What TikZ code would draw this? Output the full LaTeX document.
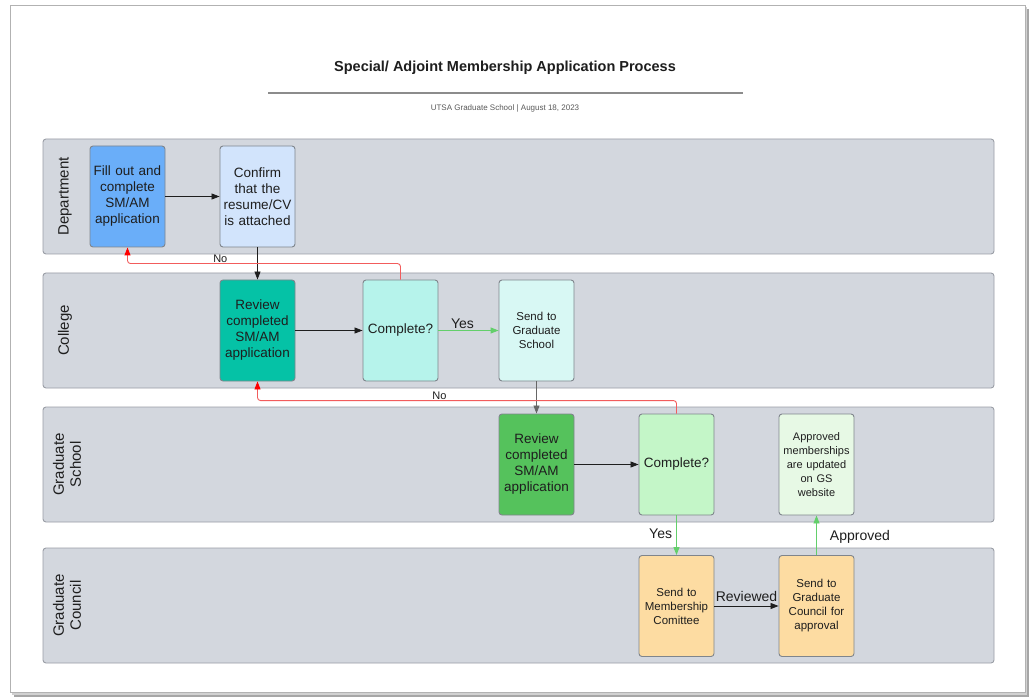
\documentclass[tikz,border=0pt]{standalone}
\usepackage{fontspec}
\setmainfont{Liberation Sans}
\usetikzlibrary{arrows.meta,calc}
\definecolor{lanefill}{HTML}{D3D7DE}
\definecolor{laneborder}{HTML}{9A9EA6}
\definecolor{boxborder}{HTML}{7F858C}
\definecolor{cBlue}{HTML}{6AAEF9}
\definecolor{cLBlue}{HTML}{D2E4FC}
\definecolor{cTeal}{HTML}{05C2A6}
\definecolor{cLTeal}{HTML}{B6F3EB}
\definecolor{cVLTeal}{HTML}{D8F8F4}
\definecolor{cGreen}{HTML}{55C25C}
\definecolor{cLGreen}{HTML}{C4F6C8}
\definecolor{cVLGreen}{HTML}{E7F9E5}
\definecolor{cOrange}{HTML}{FDDCA2}
\definecolor{redline}{HTML}{F25C5C}
\definecolor{greenline}{HTML}{63CF6B}
\definecolor{textc}{HTML}{1E1E1E}
\tikzset{
  lane/.style={draw=laneborder, line width=0.9pt, fill=lanefill, rounded corners=3pt, minimum width=951pt, minimum height=115pt, inner sep=0pt},
  lanelabel/.style={rotate=90, font=\fontsize{15}{17}\selectfont, text=textc, align=center},
  procbox/.style={draw=boxborder, line width=0.9pt, rounded corners=3pt, minimum width=75pt, minimum height=101pt, text width=74pt, align=center, inner sep=0pt, text=textc, font=\fontsize{13.5}{16}\selectfont},
  smallbox/.style={procbox, font=\fontsize{11.5}{14}\selectfont},
  tinybox/.style={procbox, font=\fontsize{11}{14}\selectfont},
  flow/.style={draw=textc, line width=0.8pt, -{Triangle[length=8pt,width=6pt]}},
  noflow/.style={draw=redline, line width=0.9pt, rounded corners=3pt, -{Triangle[length=8pt,width=6pt,color=red]}},
  yesflow/.style={draw=greenline, line width=0.9pt, -{Triangle[length=8pt,width=6pt]}},
  lbl/.style={font=\fontsize{14}{15}\selectfont, text=textc, inner sep=1pt},
  smalllbl/.style={font=\fontsize{11}{12}\selectfont, text=textc, inner sep=1pt},
}
\begin{document}
\begin{tikzpicture}[x=1pt,y=-1pt]
\useasboundingbox (0,0) rectangle (1033,700);
\fill[white] (0,0) rectangle (1033,700);
% page with shadow
\fill[black!35] (14,9) rectangle (1029,697);
\fill[black!18] (12,7) rectangle (1027,695);
\filldraw[fill=white, draw=black!30, line width=0.6pt] (10,5) rectangle (1025,692);
% title
\node[font=\bfseries\fontsize{14.5}{16}\selectfont, text=textc] (title) at (505,68) {Special/ Adjoint Membership Application Process};
\coordinate (ruleL) at (268,93);
\coordinate (ruleR) at (743,93);
\draw[black!45, line width=1.2pt] (ruleL) -- (ruleR);
\node[font=\fontsize{8}{9}\selectfont, text=black!65] (subtitle) at (505,108) {UTSA Graduate School | August 18, 2023};
% lanes
\node[lane] (laneD) at (518.5,196.5) {};
\node[lane] (laneC) at (518.5,330.5) {};
\node[lane] (laneS) at (518.5,464.5) {};
\node[lane] (laneG) at (518.5,605.5) {};
\node[lanelabel] (labD) at (65,196.5) {Department};
\node[lanelabel] (labC) at (65,330.5) {College};
\node[lanelabel] (labS) at (67,464.5) {Graduate\\School};
\node[lanelabel] (labG) at (67,605.5) {Graduate\\Council};
% boxes
\node[procbox, fill=cBlue] (fill) at (127.5,196.5) {Fill out and\\complete\\SM/AM\\application};
\node[procbox, fill=cLBlue] (confirm) at (257.5,196.5) {Confirm\\that the\\resume/CV\\is attached};
\node[procbox, fill=cTeal] (rev1) at (257.5,330.5) {Review\\completed\\SM/AM\\application};
\node[procbox, fill=cLTeal] (comp1) at (400.5,330.5) {Complete?};
\node[smallbox, fill=cVLTeal] (send1) at (536.5,330.5) {Send to\\Graduate\\School};
\node[procbox, fill=cGreen] (rev2) at (536.5,464.5) {Review\\completed\\SM/AM\\application};
\node[procbox, fill=cLGreen] (comp2) at (676.5,464.5) {Complete?};
\node[tinybox, fill=cVLGreen] (appr) at (816.5,464.5) {Approved\\memberships\\are updated\\on GS\\website};
\node[smallbox, fill=cOrange] (memb) at (676.5,606) {Send to\\Membership\\Comittee};
\node[smallbox, fill=cOrange] (sgc) at (816.5,606) {Send to\\Graduate\\Council for\\approval};
% connectors
\draw[flow] (fill) -- (confirm);
\draw[flow] (confirm) -- (rev1);
\draw[flow] (rev1) -- (comp1);
\draw[yesflow] (comp1) -- node[lbl, above, pos=0.4] (yes1) {Yes} (send1);
\draw[noflow] (comp1.north) -- ++(0,-16) -| node[smalllbl, pos=0.33, above=-1pt] (no1) {No} (fill.south);
\draw[flow, draw=black!60] (send1) -- (rev2);
\draw[flow] (rev2) -- (comp2);
\draw[noflow] (comp2.north) -- ++(0,-13) -| node[smalllbl, pos=0.283, above=-1pt] (no2) {No} (rev1.south);
\draw[yesflow] (comp2) -- node[lbl, left=3pt, pos=0.45] (yes2) {Yes} (memb);
\draw[flow] (memb) -- node[lbl, above=3pt] (rev) {Reviewed} (sgc);
\draw[yesflow] (sgc) -- node[lbl, right=12pt, pos=0.45] (appl) {Approved} (appr);
\end{tikzpicture}
\end{document}
